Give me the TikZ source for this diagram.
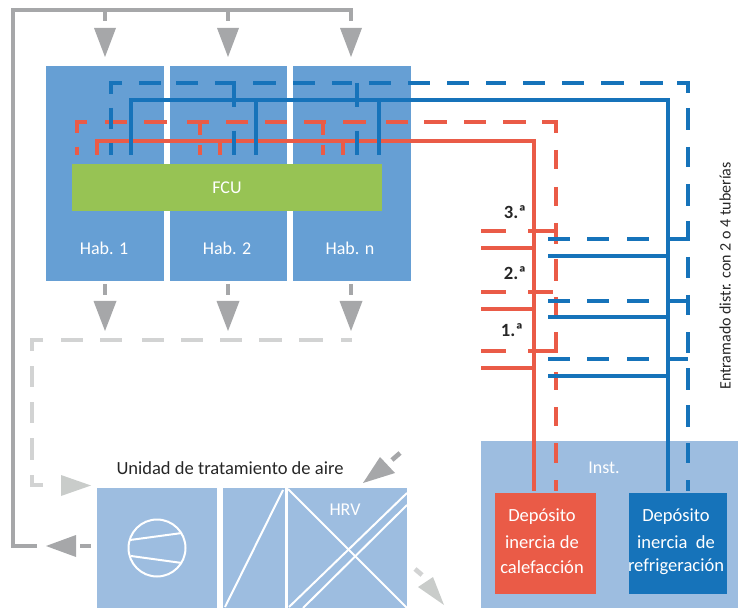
\documentclass[tikz,border=0pt]{standalone}
\usepackage{fontspec}
\setmainfont{Carlito}
\definecolor{room}{HTML}{669FD4}
\definecolor{pale}{HTML}{9DBDE0}
\definecolor{fcu}{HTML}{97C354}
\definecolor{hot}{HTML}{EA5B47}
\definecolor{cold}{HTML}{1673BA}
\definecolor{air}{HTML}{A6A7A9}
\definecolor{airl}{HTML}{D2D3D3}
\definecolor{airt}{HTML}{C9CCCA}
\tikzset{
  x=0.75pt,y=-0.75pt,
  box/.style={draw=none,inner sep=0pt,outer sep=0pt,align=center,text=white,font=\fontsize{13.5pt}{16pt}\selectfont},
  roombox/.style={box,fill=room,minimum width=118*0.75pt,minimum height=215*0.75pt},
  paleb/.style={box,fill=pale},
  tank/.style={box,font=\fontsize{13.9pt}{16pt}\selectfont},
  hotd/.style={hot,line width=3.7pt},
  hots/.style={hot,line width=3.3pt},
  coldd/.style={cold,line width=3.7pt},
  colds/.style={cold,line width=3.4pt},
  airs/.style={air,line width=3.5pt},
  airdl/.style={airl,line width=3.5pt},
  wl/.style={white,line width=1.5pt},
  txt/.style={inner sep=0pt,outer sep=0pt,text=black!85},
  num/.style={inner sep=0pt,outer sep=0pt,text=black!85,font=\fontsize{14pt}{16pt}\selectfont\bfseries},
}
\begin{document}
\begin{tikzpicture}
\useasboundingbox (0,0) rectangle (738,609);
% rooms
\node[roombox] (h1) at (105,173.5) {};
\node[roombox,minimum width=117*0.75pt] (h2) at (228.5,173.5) {};
\node[roombox] (hn) at (352,173.5) {};
\node[box,fill=fcu,minimum width=310*0.75pt,minimum height=47*0.75pt] (fcu) at (227,187.5) {FCU};
\node[box] (l1) at (104,248) {Hab. 1};
\node[box] (l2) at (227,248) {Hab. 2};
\node[box] (l3) at (350,248) {Hab. n};
% plant room and tanks
\node[paleb,minimum width=257*0.75pt,minimum height=167*0.75pt] (inst) at (609.5,524.5) {};
\node[box] (instl) at (604,468) {Inst.};
\node[box,fill=hot,minimum width=101*0.75pt,minimum height=101*0.75pt] (thot) at (545.5,543.5) {};
\node[box,fill=cold,minimum width=98*0.75pt,minimum height=101*0.75pt] (tcold) at (678,543.5) {};
\node[tank] at (542,517) {Depósito};
\node[tank] at (542,542) {inercia de};
\node[tank] at (542,567) {calefacción};
\node[tank] at (676,517) {Depósito};
\node[tank] at (676,542) {inercia\ \ de};
\node[tank] at (676,567) {refrigeración};
% air handling unit
\node[paleb,minimum width=120*0.75pt,minimum height=120*0.75pt] (ahu1) at (157,548) {};
\node[paleb,minimum width=62*0.75pt,minimum height=120*0.75pt] (ahu2) at (254,548) {};
\node[paleb,minimum width=119*0.75pt,minimum height=120*0.75pt] (ahu3) at (347.5,548) {};
\node[txt,font=\fontsize{13.9pt}{16pt}\selectfont] (ahut) at (230,468) {Unidad de tratamiento de aire};
\draw[wl] (157,548) circle (28.5);
\draw[wl] (130,540) -- (182,533);
\draw[wl] (131,556) -- (182,563);
\draw[wl] (225,607) -- (283,490);
\draw[wl] (288,489) -- (407,608);
\draw[wl] (289,607) -- (407,493);
\draw[wl] (303,608) -- (407,505);
\node[box] (hrv) at (345,510) {HRV};
% solid hot pipes
\coordinate (hotend) at (97,155);
\draw[hots,line join=miter] (hotend) |- (534,141) -- (534,491);
\foreach \x in {220,343} \draw[hots] (\x,141) -- (\x,155);
\foreach \y in {248,309,368} \draw[hots] (481,\y) -- (534,\y);
% dashed hot pipes
\foreach \a/\b in {105/127,144/167,187/209,226/248,265/287,304/326,343/366,386/408,424/447,464/486,503/526}
  \draw[hotd] (\a,122) -- (\b,122);
\draw[hotd,line join=miter] (87,122) -| (77,133);
\draw[hotd] (77,147) -- (77,155);
\draw[hotd,line join=miter] (542,122) -| (556,133);
\foreach \a/\b in {150/169,187/206,223/244,259/281,297/315,332/353,372/390,407/426,443/463,480/491}
  \draw[hotd] (556,\a) -- (556,\b);
\foreach \x in {200,323} {\draw[hotd] (\x,122) -- (\x,135); \draw[hotd] (\x,145) -- (\x,155);}
\foreach \y in {231,292,351} \draw[hotd] (481,\y) -- (506,\y);
\draw[hotd] (528,231) -- (556,231);
\draw[hotd] (528,292) -- (553,292);
\draw[hotd] (528,351) -- (556,351);
% solid cold pipes
\coordinate (coldend) at (131,155);
\draw[colds,line join=miter] (coldend) |- (668,100) -- (668,491);
\foreach \x in {256,379} \draw[colds] (\x,100) -- (\x,155);
\foreach \y in {256,317,376} \draw[colds] (548,\y) -- (668,\y);
% dashed cold pipes
\foreach \a/\b in {139/161,176/198,253/276,293/315,332/352,369/391,408/430,447/469,486/506,523/545,562/584,601/624,640/663}
  \draw[coldd] (\a,83) -- (\b,83);
\draw[coldd,line join=miter] (122,83) -| (111,94);
\foreach \a/\b in {108/129,143/155} \draw[coldd] (111,\a) -- (111,\b);
\draw[coldd,line join=miter] (215,83) -| (234,107);
\draw[coldd] (234,131) -- (234,155);
\draw[coldd] (357,83) -- (357,107);
\draw[coldd] (357,131) -- (357,155);
\draw[coldd,line join=miter] (677,83) -| (688,93);
\foreach \a/\b in {108/130,147/167,184/206,221/241,257/278,295/315,332/353,368/390,405/427,443/463,480/491}
  \draw[coldd] (688,\a) -- (688,\b);
\foreach \y in {239,301,359} \foreach \a/\b in {548/570,587/609,627/649}
  \draw[coldd] (\a,\y) -- (\b,\y);
\draw[coldd] (668,239) -- (688,239);
\draw[coldd] (668,301) -- (688,301);
\draw[coldd] (668,359) -- (688,359);
% supply air
\coordinate (sup) at (37,546);
\draw[airs,line join=miter] (sup) -| (13,10) -| (351,21);
\foreach \x in {105,228} \draw[airs] (\x,10) -- (\x,21);
\foreach \x in {105,228,351} {
  \fill[air] (\x-11,28) -- (\x+11,28) -- (\x,57) -- cycle;
  \draw[airs] (\x,284) -- (\x,295);
  \fill[air] (\x-11.5,301) -- (\x+11.5,301) -- (\x,331) -- cycle;
}
% return air
\foreach \a/\b in {61/83,100/122,142/164,181/203,220/242,259/282,299/323,341/352}
  \draw[airdl] (\a,340) -- (\b,340);
\draw[airdl,line join=miter] (43,340) -| (32,351);
\foreach \a/\b in {366/387,402/423,438/460} \draw[airdl] (32,\a) -- (32,\b);
\draw[airdl,line join=miter] (32,475) |- (43,485);
% arrows at the unit
\fill[airt] (61,475) -- (91,485.5) -- (61,496) -- cycle;
\fill[air] (76,535) -- (46,546) -- (76,557) -- cycle;
\draw[airs] (80,546) -- (91,546);
\fill[air] (380,457) -- (395,473) -- (363,483) -- cycle;
\draw[airs] (392,460) -- (400,453);
\fill[airt] (433,577) -- (418,587) -- (444,605) -- cycle;
\draw[airdl] (415,569) -- (422,575);
% labels
\node[num] (n3) at (515,212) {3.ª};
\node[num] (n2) at (515,273) {2.ª};
\node[num] (n1) at (512,330) {1.ª};
\node[txt,rotate=90,font=\fontsize{12pt}{14pt}\selectfont] (side) at (725,276) {Entramado distr. con 2 o 4 tuberías};
\end{tikzpicture}
\end{document}
